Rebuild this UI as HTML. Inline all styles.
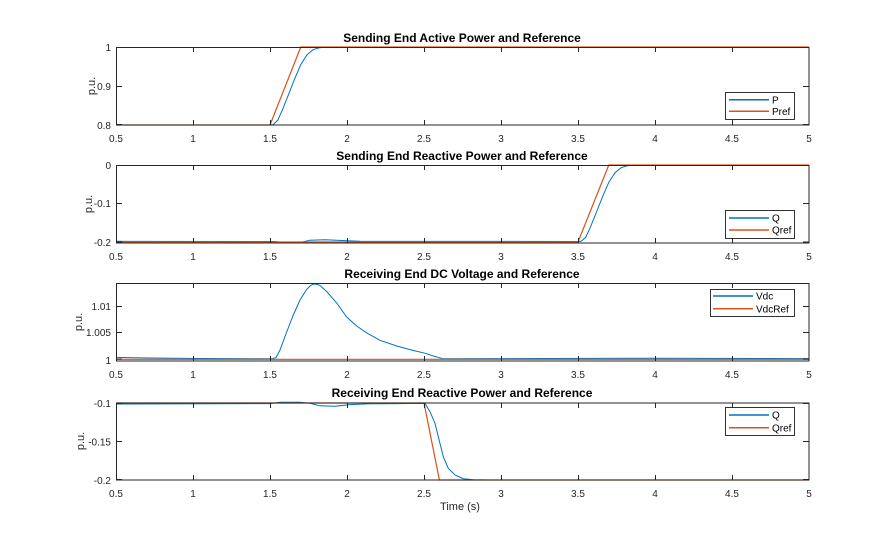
<!DOCTYPE html>
<html><head><meta charset="utf-8"><style>
html,body{margin:0;padding:0;background:#fff;}
svg{display:block;font-family:"Liberation Sans",Arial,sans-serif;}
.t{font-size:12px;font-weight:bold;fill:#000;text-anchor:middle;}
.tk{font-size:10px;fill:#262626;}
.lb{font-size:11px;fill:#262626;}
.lg{font-size:10px;fill:#000;}
</style></head><body>
<svg width="895" height="540" viewBox="0 0 895 540" xmlns="http://www.w3.org/2000/svg">
<rect width="895" height="540" fill="#fff"/>

<!-- ============ Plot 1 ============ -->
<g>
<rect x="116" y="47" width="693" height="78" fill="#fff"/>
<polyline fill="none" stroke="#0072BD" stroke-width="1" points="116,125 270,125 273.1,124.6 277.7,120.3 282.3,110.2 288.5,94.6 294.6,79 300.8,64.6 307,54.8 313.1,49.7 319.3,47.8 325.4,47.2 340,47 809,47"/>
<polyline fill="none" stroke="#D95319" stroke-width="1.2" points="116,125 270,125 300.8,47 809,47"/>
<rect x="116.5" y="47.5" width="692.5" height="77.5" fill="none" stroke="#262626" stroke-width="1"/>
<g stroke="#262626" stroke-width="1">
<path d="M116.5,125v-5M193.5,125v-5M270.5,125v-5M347.5,125v-5M424.5,125v-5M501.5,125v-5M578.5,125v-5M655.5,125v-5M732.5,125v-5M809,125v-5"/>
<path d="M116.5,47v5M193.5,47v5M270.5,47v5M347.5,47v5M424.5,47v5M501.5,47v5M578.5,47v5M655.5,47v5M732.5,47v5M809,47v5"/>
<path d="M116,47.5h6M116,86.5h6M116,124.5h6M809,47.5h-6M809,86.5h-6M809,124.5h-6"/>
</g>
<g class="tk" text-anchor="middle">
<text x="116" y="142">0.5</text><text x="193" y="142">1</text><text x="270" y="142">1.5</text><text x="347" y="142">2</text><text x="424" y="142">2.5</text><text x="501" y="142">3</text><text x="578" y="142">3.5</text><text x="655" y="142">4</text><text x="732" y="142">4.5</text><text x="809" y="142">5</text>
</g>
<g class="tk" text-anchor="end">
<text x="111" y="51">1</text><text x="111" y="90">0.9</text><text x="111" y="129">0.8</text>
</g>
<text class="lb" transform="translate(95,86) rotate(-90)" text-anchor="middle">p.u.</text>
<text class="t" x="462" y="42">Sending End Active Power and Reference</text>
<rect x="725.5" y="92.5" width="69" height="27" fill="#fff" stroke="#000" stroke-width="0.8"/>
<line x1="729" y1="99.7" x2="769" y2="99.7" stroke="#0072BD" stroke-width="1.5"/>
<line x1="729" y1="111.3" x2="769" y2="111.3" stroke="#D95319" stroke-width="1.5"/>
<text class="lg" x="772" y="103.5">P</text>
<text class="lg" x="772" y="115">Pref</text>
</g>

<!-- ============ Plot 2 ============ -->
<g>
<polyline fill="none" stroke="#0072BD" stroke-width="1" points="116,241.3 275,241.5 285,242.8 300,242.6 310,240.2 325,239.8 345,240.6 360,241.3 578,241.5 581.1,241.3 585.7,237.4 590.3,227.4 596.5,212 602.6,196.6 608.8,182.3 615,172.7 621.1,167.7 627.3,165.8 633.4,165.2 650,165 809,165"/>
<polyline fill="none" stroke="#D95319" stroke-width="1.2" points="116,242 578,242 608.8,165 809,165"/>
<rect x="116.5" y="165.5" width="692.5" height="77.5" fill="none" stroke="#262626" stroke-width="1"/>
<g stroke="#262626" stroke-width="1">
<path d="M116.5,243v-5M193.5,243v-5M270.5,243v-5M347.5,243v-5M424.5,243v-5M501.5,243v-5M578.5,243v-5M655.5,243v-5M732.5,243v-5M809,243v-5"/>
<path d="M116.5,165v5M193.5,165v5M270.5,165v5M347.5,165v5M424.5,165v5M501.5,165v5M578.5,165v5M655.5,165v5M732.5,165v5M809,165v5"/>
<path d="M116,165.5h6M116,203.5h6M116,242h6M809,165.5h-6M809,203.5h-6M809,242h-6"/>
</g>
<g class="tk" text-anchor="middle">
<text x="116" y="260">0.5</text><text x="193" y="260">1</text><text x="270" y="260">1.5</text><text x="347" y="260">2</text><text x="424" y="260">2.5</text><text x="501" y="260">3</text><text x="578" y="260">3.5</text><text x="655" y="260">4</text><text x="732" y="260">4.5</text><text x="809" y="260">5</text>
</g>
<g class="tk" text-anchor="end">
<text x="111" y="169">0</text><text x="111" y="207">-0.1</text><text x="111" y="246">-0.2</text>
</g>
<text class="lb" transform="translate(92,204) rotate(-90)" text-anchor="middle">p.u.</text>
<text class="t" x="462" y="160">Sending End Reactive Power and Reference</text>
<rect x="725.5" y="210.5" width="69" height="28" fill="#fff" stroke="#000" stroke-width="0.8"/>
<line x1="729" y1="218" x2="769" y2="218" stroke="#0072BD" stroke-width="1.5"/>
<line x1="729" y1="230" x2="769" y2="230" stroke="#D95319" stroke-width="1.5"/>
<text class="lg" x="772" y="221.7">Q</text>
<text class="lg" x="772" y="233.7">Qref</text>
</g>

<!-- ============ Plot 3 ============ -->
<g>
<polyline fill="none" stroke="#0072BD" stroke-width="1" points="116,357.4 150,358 200,358.5 272,358.8 276,357.6 280,350 286.7,332 293.3,315 300,300 306.7,289.5 310,286 313.3,284 316.7,284.3 320,285.5 326.7,291.5 336.7,303 346.7,317 356.7,326 366.7,333 380,340.3 396.7,346 413.3,350.5 425,353.2 433.3,356 443.3,358.8 500,358.6 650,358.2 809,358.6"/>
<line x1="116" y1="359.3" x2="809" y2="359.3" stroke="#D95319" stroke-width="1.2"/>
<rect x="116.5" y="283.5" width="692.5" height="77.5" fill="none" stroke="#262626" stroke-width="1"/>
<g stroke="#262626" stroke-width="1">
<path d="M116.5,361v-5M193.5,361v-5M270.5,361v-5M347.5,361v-5M424.5,361v-5M501.5,361v-5M578.5,361v-5M655.5,361v-5M732.5,361v-5M809,361v-5"/>
<path d="M116.5,283v5M193.5,283v5M270.5,283v5M347.5,283v5M424.5,283v5M501.5,283v5M578.5,283v5M655.5,283v5M732.5,283v5M809,283v5"/>
<path d="M116,306.5h6M116,332.5h6M116,359h6M809,306.5h-6M809,332.5h-6M809,359h-6"/>
</g>
<g class="tk" text-anchor="middle">
<text x="116" y="378">0.5</text><text x="193" y="378">1</text><text x="270" y="378">1.5</text><text x="347" y="378">2</text><text x="424" y="378">2.5</text><text x="501" y="378">3</text><text x="578" y="378">3.5</text><text x="655" y="378">4</text><text x="732" y="378">4.5</text><text x="809" y="378">5</text>
</g>
<g class="tk" text-anchor="end">
<text x="111" y="310">1.01</text><text x="111" y="336">1.005</text><text x="111" y="364">1</text>
</g>
<text class="lb" transform="translate(82,322) rotate(-90)" text-anchor="middle">p.u.</text>
<text class="t" x="462" y="278">Receiving End DC Voltage and Reference</text>
<rect x="710.5" y="289.5" width="84" height="27" fill="#fff" stroke="#000" stroke-width="0.8"/>
<line x1="713" y1="296" x2="753" y2="296" stroke="#0072BD" stroke-width="1.5"/>
<line x1="713" y1="308.7" x2="753" y2="308.7" stroke="#D95319" stroke-width="1.5"/>
<text class="lg" x="756" y="299.7">Vdc</text>
<text class="lg" x="756" y="312.4">VdcRef</text>
</g>

<!-- ============ Plot 4 ============ -->
<g>
<polyline fill="none" stroke="#0072BD" stroke-width="1" points="116,404 270,403.6 280,402.3 300,402.2 310,403.3 320,405.8 335,406.3 350,404.6 370,403.8 425,403.4 430,411.7 435,423.3 438.3,436.7 443.3,456.7 448.3,468.3 455,475 463.3,478.7 473.3,479.7 490,480 809,480"/>
<polyline fill="none" stroke="#D95319" stroke-width="1.2" points="116,403 424,403 439.4,480 809,480"/>
<rect x="116.5" y="403" width="692.5" height="77" fill="none" stroke="#262626" stroke-width="1"/>
<g stroke="#262626" stroke-width="1">
<path d="M116.5,480v-5M193.5,480v-5M270.5,480v-5M347.5,480v-5M424.5,480v-5M501.5,480v-5M578.5,480v-5M655.5,480v-5M732.5,480v-5M809,480v-5"/>
<path d="M116.5,403v5M193.5,403v5M270.5,403v5M347.5,403v5M424.5,403v5M501.5,403v5M578.5,403v5M655.5,403v5M732.5,403v5M809,403v5"/>
<path d="M116,403.5h6M116,441.5h6M116,479.5h6M809,403.5h-6M809,441.5h-6M809,479.5h-6"/>
</g>
<g class="tk" text-anchor="middle">
<text x="116" y="497">0.5</text><text x="193" y="497">1</text><text x="270" y="497">1.5</text><text x="347" y="497">2</text><text x="424" y="497">2.5</text><text x="501" y="497">3</text><text x="578" y="497">3.5</text><text x="655" y="497">4</text><text x="732" y="497">4.5</text><text x="809" y="497">5</text>
</g>
<g class="tk" text-anchor="end">
<text x="111" y="407">-0.1</text><text x="111" y="445.5">-0.15</text><text x="111" y="484">-0.2</text>
</g>
<text class="lb" transform="translate(84,441) rotate(-90)" text-anchor="middle">p.u.</text>
<text class="t" x="462" y="397">Receiving End Reactive Power and Reference</text>
<rect x="725.5" y="407.5" width="69" height="28" fill="#fff" stroke="#000" stroke-width="0.8"/>
<line x1="729" y1="415" x2="769" y2="415" stroke="#0072BD" stroke-width="1.5"/>
<line x1="729" y1="427.7" x2="769" y2="427.7" stroke="#D95319" stroke-width="1.5"/>
<text class="lg" x="772" y="418.7">Q</text>
<text class="lg" x="772" y="431.4">Qref</text>
</g>

<text class="lb" x="460" y="510" text-anchor="middle">Time (s)</text>
</svg>
</body></html>
